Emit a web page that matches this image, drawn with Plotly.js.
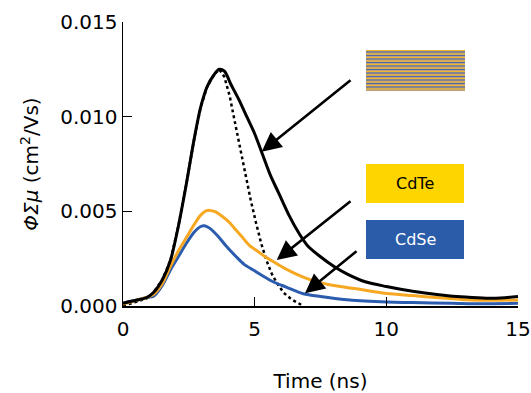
<!DOCTYPE html>
<html>
<head>
<meta charset="utf-8">
<script src="https://cdn.plot.ly/plotly-3.0.1.min.js"></script>
<style>
html,body{margin:0;padding:0;background:#fff;}
#chart{width:531px;height:393px;}
</style>
</head>
<body>
<div id="chart"></div>
<script>
// ---- data ----
const superlatticeX = [0, 0.5, 0.9, 1.15, 1.5, 1.8, 2.1, 2.4, 2.7, 2.95, 3.2, 3.45, 3.65, 3.85, 4.1, 4.4, 4.7, 5.0, 5.3, 5.6, 5.9, 6.3, 6.7, 7.0, 7.5, 8.0, 8.5, 9.2, 10, 11, 12, 13, 13.8, 14.5, 15];
const superlatticeY = [0.00015, 0.0003, 0.00045, 0.0007, 0.0014, 0.0024, 0.0042, 0.0064, 0.0088, 0.0105, 0.0116, 0.0122, 0.0125, 0.0124, 0.0117, 0.0109, 0.0100, 0.0091, 0.0080, 0.0069, 0.0060, 0.0048, 0.0038, 0.0032, 0.0026, 0.0021, 0.0017, 0.00128, 0.00103, 0.00078, 0.0006, 0.00047, 0.00041, 0.00044, 0.0005];

const sumX = [0, 0.5, 0.9, 1.15, 1.5, 1.8, 2.1, 2.4, 2.7, 2.95, 3.2, 3.45, 3.65, 3.85, 4.05, 4.25, 4.45, 4.65, 4.85, 5.05, 5.25, 5.45, 5.65, 5.85, 6.1, 6.4, 6.85];
const sumY = [0.0, 0.0002, 0.0004, 0.0007, 0.0014, 0.0024, 0.0042, 0.0064, 0.0088, 0.0105, 0.0116, 0.0122, 0.0125, 0.0121, 0.0111, 0.0097, 0.0083, 0.0069, 0.0056, 0.0044, 0.0033, 0.0024, 0.0017, 0.0012, 0.0007, 0.00035, 0.0];

const cdteX = [0, 0.5, 0.9, 1.15, 1.5, 1.8, 2.1, 2.4, 2.7, 2.95, 3.15, 3.3, 3.5, 3.8, 4.05, 4.3, 4.55, 4.8, 5.1, 5.4, 5.7, 6.0, 6.4, 6.8, 7.3, 8, 8.8, 9.8, 11, 12, 13, 14, 15];
const cdteY = [0.0001, 0.0003, 0.00045, 0.0006, 0.0012, 0.0021, 0.0029, 0.0036, 0.0043, 0.0048, 0.00502, 0.00505, 0.00498, 0.0047, 0.0044, 0.0040, 0.0036, 0.0032, 0.0029, 0.0026, 0.00235, 0.0021, 0.0018, 0.00155, 0.0013, 0.00108, 0.00092, 0.0007, 0.00055, 0.00043, 0.00033, 0.0003, 0.00032];

const cdseX = [0, 0.5, 0.9, 1.15, 1.5, 1.8, 2.1, 2.4, 2.7, 2.95, 3.1, 3.3, 3.6, 3.9, 4.3, 4.6, 4.95, 5.3, 5.7, 6.2, 6.85, 7.5, 8.5, 9.8, 11, 12.5, 13.5, 15];
const cdseY = [0.00015, 0.0003, 0.00045, 0.0005, 0.0011, 0.0019, 0.0026, 0.0033, 0.0039, 0.0042, 0.00424, 0.0041, 0.0037, 0.0032, 0.0026, 0.0022, 0.0019, 0.0016, 0.00128, 0.0010, 0.00065, 0.0005, 0.00033, 0.00023, 0.00018, 0.00015, 0.00012, 0.00014];

const xTicks = [0, 5, 10, 15];
const yTicks = [0, 0.005, 0.010, 0.015];
const yTickText = ['0.000', '0.005', '0.010', '0.015'];
const labels = ['CdTe', 'CdSe'];

// ---- styling ----
const FONT = 'DejaVu Sans, Verdana, sans-serif';
const BLACK = '#000000', ORANGE = '#F7A823', BLUE = '#2B5CAE';

const traces = [
  {x: sumX, y: sumY, mode: 'lines', line: {color: BLACK, width: 2.5, dash: 'dot'}, hoverinfo: 'skip'},
  {x: cdseX, y: cdseY, mode: 'lines', line: {color: BLUE, width: 3, shape: 'spline', smoothing: 0.8}, hoverinfo: 'skip'},
  {x: cdteX, y: cdteY, mode: 'lines', line: {color: ORANGE, width: 3, shape: 'spline', smoothing: 0.8}, hoverinfo: 'skip'},
  {x: superlatticeX, y: superlatticeY, mode: 'lines', line: {color: BLACK, width: 3, shape: 'spline', smoothing: 0.8}, hoverinfo: 'skip'}
];

// helpers converting figure pixels to paper fractions
const L = 123, R = 13, T = 22, B = 87, W = 531, H = 393;
const pw = W - L - R, ph = H - T - B;
const px = v => (v - L) / pw;
const py = v => (H - B - v) / ph;

const shapes = [];
// striped superlattice box
shapes.push({type: 'rect', xref: 'paper', yref: 'paper', x0: px(366), x1: px(465), y0: py(91), y1: py(50), fillcolor: '#B9A27A', line: {width: 0}, layer: 'above'});
const stripeCols = ['#F0B530', '#4F66AC'];
for (let yy = 50, k = 0; yy < 90; yy += 1.5, k++) {
  shapes.push({type: 'rect', xref: 'paper', yref: 'paper', x0: px(366), x1: px(465), y0: py(yy + 1), y1: py(yy), fillcolor: stripeCols[k % 2], line: {width: 0}, layer: 'above'});
  if (k % 2 === 1) yy += 0.5;
}
// CdTe and CdSe boxes
shapes.push({type: 'rect', xref: 'paper', yref: 'paper', x0: px(366), x1: px(464), y0: py(203), y1: py(164), fillcolor: '#FFD500', line: {width: 0}, layer: 'above'});
shapes.push({type: 'rect', xref: 'paper', yref: 'paper', x0: px(366), x1: px(464), y0: py(259), y1: py(220), fillcolor: '#2B5CAA', line: {width: 0}, layer: 'above'});

const arrow = (tipX, tipY, tailX, tailY) => ({
  xref: 'paper', yref: 'paper', x: px(tipX), y: py(tipY), ax: tailX - tipX, ay: tailY - tipY,
  axref: 'pixel', ayref: 'pixel', text: '', showarrow: true, arrowhead: 2, arrowsize: 1.5, arrowwidth: 2.6, arrowcolor: BLACK, standoff: 0
});

const annotations = [
  arrow(261.7, 151.7, 352, 79),
  arrow(276.7, 260, 352, 200),
  arrow(305, 293.3, 358, 250),
  {xref: 'paper', yref: 'paper', x: px(415), y: py(183.5), xanchor: 'center', yanchor: 'middle', text: labels[0], showarrow: false, font: {family: FONT, size: 16, color: '#000'}},
  {xref: 'paper', yref: 'paper', x: px(415), y: py(239.5), xanchor: 'center', yanchor: 'middle', text: labels[1], showarrow: false, font: {family: FONT, size: 16, color: '#fff'}}
];

const layout = {
  width: W, height: H,
  margin: {l: L, r: R, t: T, b: B},
  paper_bgcolor: '#fff', plot_bgcolor: '#fff',
  showlegend: false,
  font: {family: FONT, size: 20, color: '#000'},
  xaxis: {
    range: [0, 15], tickvals: xTicks, ticktext: xTicks.map(String),
    showline: true, linecolor: '#000', linewidth: 1.5, mirror: false,
    ticks: 'inside', ticklen: 9, tickwidth: 1.5, tickcolor: '#000',
    showgrid: false, zeroline: false, ticklabelstandoff: 4,
    tickfont: {family: FONT, size: 20, color: '#000'},
    title: {text: 'Time (ns)', font: {family: FONT, size: 20, color: '#000'}, standoff: 36}
  },
  yaxis: {
    range: [0, 0.015], tickvals: yTicks, ticktext: yTickText,
    showline: true, linecolor: '#000', linewidth: 1.5, mirror: false,
    ticks: 'inside', ticklen: 9, tickwidth: 1.5, tickcolor: '#000',
    showgrid: false, zeroline: false,
    tickfont: {family: FONT, size: 20, color: '#000'},
    title: {text: '<i>ΦΣμ</i> (cm<sup>2</sup>/Vs)', font: {family: FONT, size: 20, color: '#000'}, standoff: 16}
  },
  shapes: shapes,
  annotations: annotations
};

Plotly.newPlot('chart', traces, layout, {staticPlot: true, displayModeBar: false});
</script>
</body>
</html>
